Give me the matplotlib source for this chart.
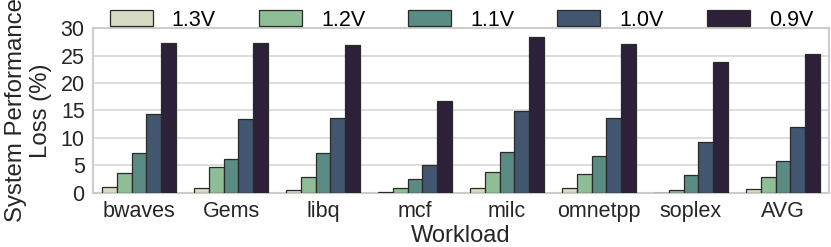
import numpy as np
import matplotlib
matplotlib.use("Agg")
import matplotlib.pyplot as plt

# data
workloads = ["bwaves", "Gems", "libq", "mcf", "milc", "omnetpp", "soplex", "AVG"]
voltages = ["1.3V", "1.2V", "1.1V", "1.0V", "0.9V"]
loss_13 = [1.0, 0.8, 0.45, 0.2, 0.8, 0.8, 0.0, 0.6]
loss_12 = [3.6, 4.7, 2.9, 0.8, 3.8, 3.5, 0.45, 2.8]
loss_11 = [7.2, 6.1, 7.2, 2.5, 7.4, 6.7, 3.3, 5.7]
loss_10 = [14.3, 13.4, 13.6, 5.1, 14.9, 13.6, 9.3, 12.0]
loss_09 = [27.3, 27.3, 27.0, 16.7, 28.4, 27.2, 23.8, 25.4]
colors = ["#d6dcc4", "#8fbd95", "#5a8c83", "#43566f", "#2d2139"]

plt.rcParams['font.family'] = ['Liberation Sans', 'DejaVu Sans']
fs = 15.5

fig = plt.figure(figsize=(8.31, 2.47), dpi=100)
ax = fig.add_axes([93 / 831, 1 - 192.7 / 247, 736 / 831, (192.7 - 28.3) / 247])

series = [loss_13, loss_12, loss_11, loss_10, loss_09]
x = np.arange(len(workloads))
w = 0.8 / len(series)
for i in range(len(series)):
    ax.bar(x - 0.4 + w * (i + 0.5), series[i], width=w, color=colors[i],
           edgecolor="#2a2a2a", linewidth=0.9, label=voltages[i], zorder=3)

ax.set_xlim(-0.5, len(workloads) - 0.5)
ax.set_ylim(0, 30)
ax.set_yticks([0, 5, 10, 15, 20, 25, 30])
ax.set_xticks(x)
ax.set_xticklabels(workloads)
ax.tick_params(axis="both", labelsize=fs, length=0, pad=6, colors="#262626")
ax.yaxis.grid(True, color="#d4d4d4", linewidth=1.1, zorder=0)
ax.set_axisbelow(True)
for s in ax.spines.values():
    s.set_color("#cccccc")
    s.set_linewidth(1.5)

ax.set_xlabel("Workload", fontsize=17, labelpad=2, color="#262626")
ax.set_ylabel("System Performance\nLoss (%)", fontsize=17.3, labelpad=6,
              color="#262626", linespacing=1.2)

fig.legend(loc="center", bbox_to_anchor=(461.5 / 831, 1 - 20 / 247), ncol=5,
           frameon=False, fontsize=fs, handlelength=2.0, handleheight=0.75,
           handletextpad=0.88, columnspacing=2.0, borderpad=0)

fig.savefig("out.png", dpi=100)
